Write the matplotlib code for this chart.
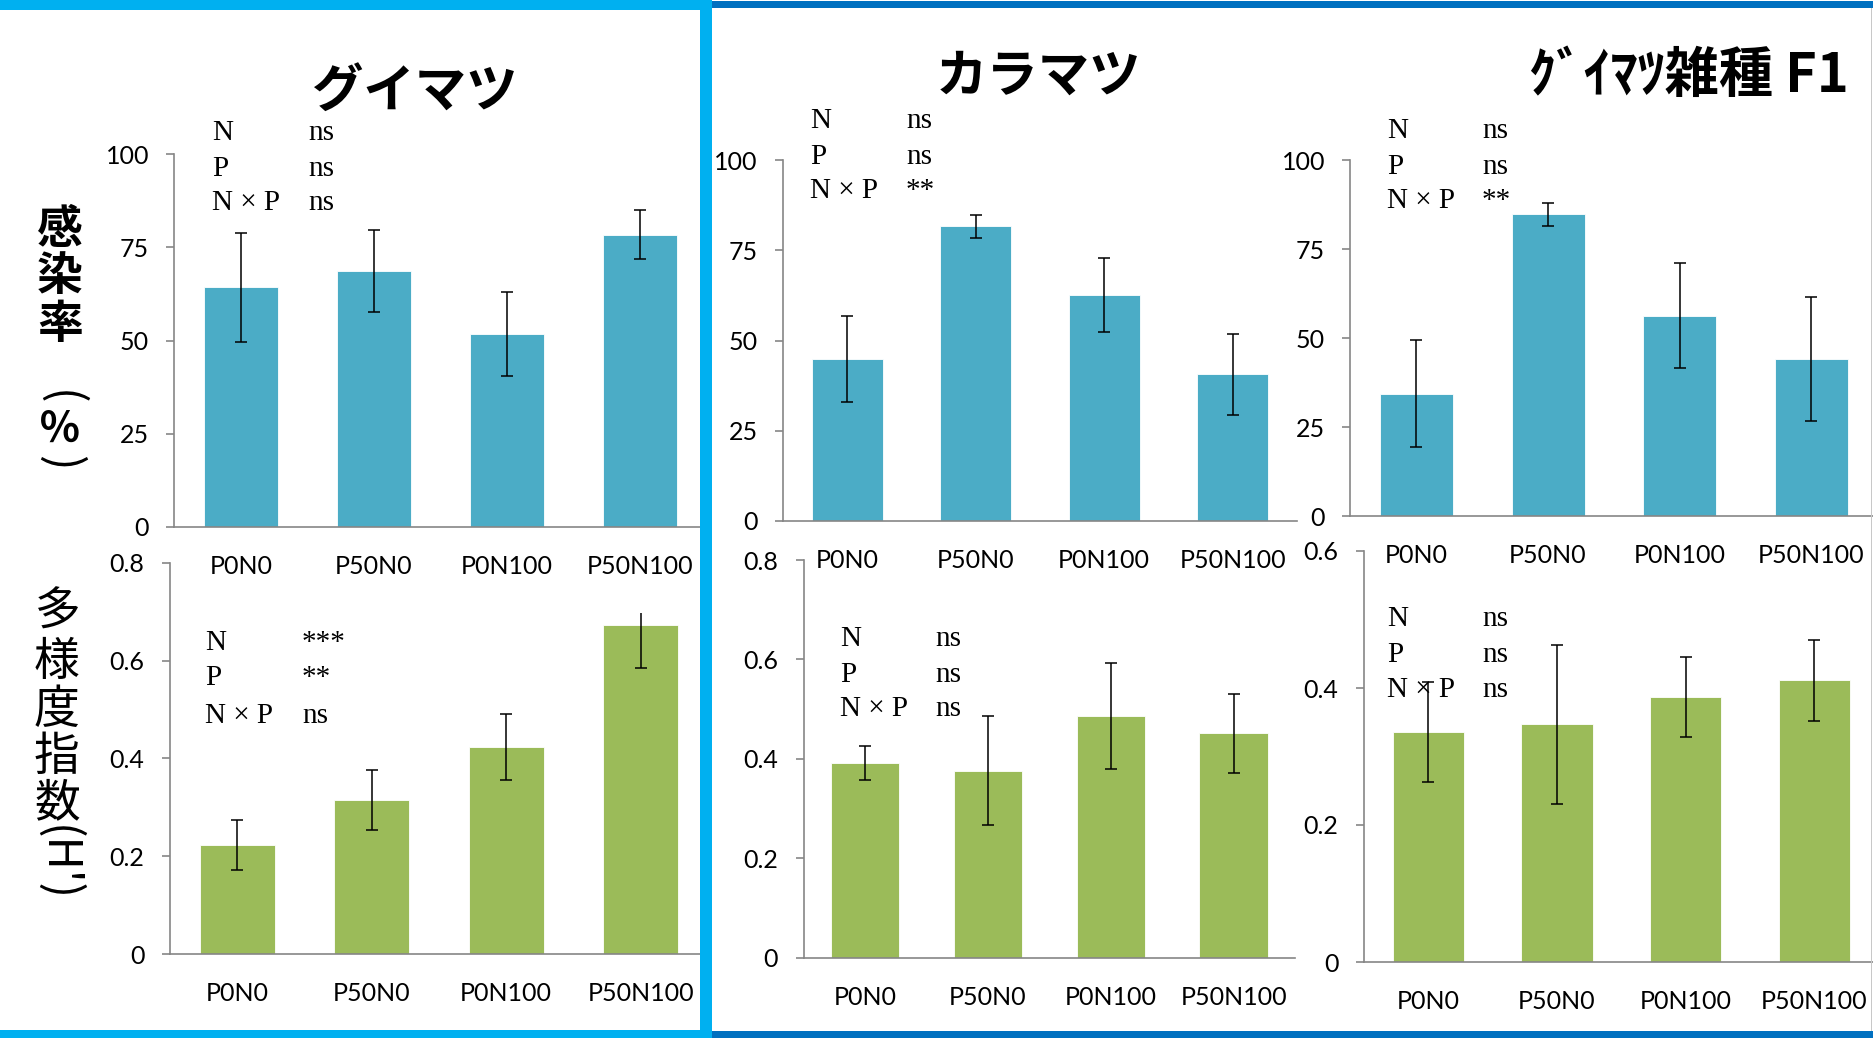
import numpy as np
import matplotlib
matplotlib.use("Agg")
import matplotlib.pyplot as plt
from matplotlib.patches import Rectangle
from matplotlib.transforms import Bbox, TransformedBbox

plt.rcParams['font.family'] = ['Lato', 'Noto Sans CJK JP', 'DejaVu Sans']

W, H = 1874, 1038

categories = ["P0N0", "P50N0", "P0N100", "P50N100"]

# 感染率 (%)
infect_guimatsu = [64.3, 68.6, 51.7, 78.4]
infect_guimatsu_err = [14.6, 11.0, 11.3, 6.6]
infect_karamatsu = [44.9, 81.7, 62.6, 40.6]
infect_karamatsu_err = [12.0, 3.1, 10.2, 11.2]
infect_f1 = [34.4, 84.8, 56.3, 44.1]
infect_f1_err = [15.1, 3.2, 14.8, 17.4]

# 多様度指数 (H')
div_guimatsu = [0.223, 0.315, 0.423, 0.672]
div_guimatsu_err = [0.051, 0.062, 0.068, 0.087]
div_karamatsu = [0.391, 0.376, 0.486, 0.451]
div_karamatsu_err = [0.034, 0.110, 0.107, 0.080]
div_f1 = [0.336, 0.347, 0.387, 0.411]
div_f1_err = [0.0725, 0.116, 0.058, 0.059]

# two-way ANOVA results (N, P, N×P)
sig_infect = [["ns", "ns", "ns"], ["ns", "ns", "**"], ["ns", "ns", "**"]]
sig_div = [["***", "**", "ns"], ["ns", "ns", "ns"], ["ns", "ns", "ns"]]

titles = ["グイマツ", "カラマツ", "ｸﾞｲﾏﾂ雑種 F1"]

TEAL = "#4BACC6"
GREEN = "#9BBB59"
AXIS_GREY = "#868686"

fig = plt.figure(figsize=(W / 100, H / 100), dpi=100)
fig.patch.set_facecolor("white")


def fx(x):
    return x / W


def fy(y):
    return 1 - y / H


def rect(left, right, top, bottom):
    return [left / W, 1 - bottom / H, (right - left) / W, (bottom - top) / H]


def panel(box, values, errors, color, ymax, yticks):
    ax = fig.add_axes(box)
    ax.set_facecolor("none")
    x = np.arange(len(categories))
    ax.bar(x, values, width=0.555, color=color, edgecolor="white",
           linewidth=0.6, zorder=2)
    eb = ax.errorbar(x, values, yerr=errors, fmt="none", ecolor="black",
                     elinewidth=1.1, capsize=4.2, capthick=1.1, zorder=3)
    ax.set_xlim(-0.5, 3.5)
    ax.set_ylim(0, ymax)
    ax.set_xticks(x)
    ax.set_xticklabels(categories)
    ax.set_yticks(yticks)
    ax.set_yticklabels(["%g" % t for t in yticks])
    for s in ["top", "right"]:
        ax.spines[s].set_visible(False)
    for s in ["left", "bottom"]:
        ax.spines[s].set_color(AXIS_GREY)
        ax.spines[s].set_linewidth(1.2)
    ax.tick_params(axis="y", direction="out", length=5.8, width=1.2,
                   color=AXIS_GREY, pad=12.5, labelsize=18)
    ax.tick_params(axis="x", length=0, pad=20.5, labelsize=18)
    return ax, eb


def stats(x_left, x_val, rows, values):
    for lab, val, y in zip(["N", "P", "N × P"], values, rows):
        fig.text(fx(x_left), fy(y + 10), lab, family="Liberation Serif",
                 fontsize=21, va="baseline", ha="left")
        fig.text(fx(x_val), fy(y + 10), val, family="Liberation Serif",
                 fontsize=21, va="baseline", ha="left")


# top row: infection rate
panel(rect(174.5, 706.5, 154, 527), infect_guimatsu, infect_guimatsu_err,
      TEAL, 100, [0, 25, 50, 75, 100])
panel(rect(783, 1297, 160.4, 520.7), infect_karamatsu, infect_karamatsu_err,
      TEAL, 100, [0, 25, 50, 75, 100])
panel(rect(1350.5, 1877.3, 160.4, 516), infect_f1, infect_f1_err,
      TEAL, 100, [0, 25, 50, 75, 100])

# bottom row: diversity index
ax4, eb4 = panel(rect(170, 708, 562.7, 954), div_guimatsu, div_guimatsu_err,
                 GREEN, 0.8, [0, 0.2, 0.4, 0.6, 0.8])
# the upper chart area hides anything above this line
hide = TransformedBbox(Bbox.from_extents(0, 0, 1, fy(612.7)), fig.transFigure)
for art in list(eb4.lines[1]) + list(eb4.lines[2]):
    art.set_clip_box(hide)
panel(rect(803.6, 1295, 560, 957.7), div_karamatsu, div_karamatsu_err,
      GREEN, 0.8, [0, 0.2, 0.4, 0.6, 0.8])
panel(rect(1364, 1878.7, 551, 962), div_f1, div_f1_err,
      GREEN, 0.6, [0, 0.2, 0.4, 0.6])

# ANOVA text blocks
stats(212, 308, [130, 166, 200], sig_infect[0])
stats(810, 906, [118, 153.6, 187.5], sig_infect[1])
stats(1387, 1482, [128, 163.6, 197.5], sig_infect[2])
stats(205, 302, [640, 675, 712.7], sig_div[0])
stats(840, 935, [636, 671.7, 705.7], sig_div[1])
stats(1387, 1482, [616, 651.7, 686.7], sig_div[2])

# species titles
for t, (cx, cy), fs in zip(titles, [(415, 91), (1038, 76), (1689, 76)],
                           [37, 37, 39]):
    fig.text(fx(cx), fy(cy), t, ha="center", va="center", fontsize=fs,
             fontweight="bold", family=["Noto Sans CJK JP"])

# vertical y labels
for ch, y in zip(["感", "染", "率"], [230, 277, 325]):
    fig.text(fx(60), fy(y), ch, ha="center", va="center", fontsize=33,
             fontweight="bold", family=["Noto Sans CJK JP"])
fig.text(fx(60), fy(398), "(", ha="center", va="center", fontsize=33,
         rotation=-90, family=["Noto Sans CJK JP"])
fig.text(fx(60), fy(430), "％", ha="center", va="center", fontsize=30,
         fontweight="bold", family=["Noto Sans CJK JP"])
fig.text(fx(60), fy(463), ")", ha="center", va="center", fontsize=33,
         rotation=-90, family=["Noto Sans CJK JP"])

for ch, y in zip(["多", "様", "度", "指", "数"], [612, 662, 710, 757, 803]):
    fig.text(fx(57), fy(y), ch, ha="center", va="center", fontsize=33,
             family=["Noto Sans CJK JP"])
fig.text(fx(57), fy(864), "(H')", ha="center", va="center", fontsize=33,
         rotation=-90, family=["Noto Sans CJK JP"])

# slide frames
CYAN = "#00B0F0"
DARK = "#0070C0"


def band(x0, x1, y0, y1, color):
    fig.add_artist(Rectangle((fx(x0), fy(y1)), (x1 - x0) / W, (y1 - y0) / H,
                             transform=fig.transFigure, color=color,
                             linewidth=0, zorder=10))


band(711.7, W, 1, 8.3, DARK)
band(711.7, W, 1031, H, DARK)
band(0, 711.7, 0, 10, CYAN)
band(0, 711.7, 1030, H, CYAN)
band(700, 711.7, 0, H, CYAN)
band(1871, 1872.5, 8, 1031, "#c8c8c8")

fig.savefig("out.png", dpi=100, facecolor="white")
